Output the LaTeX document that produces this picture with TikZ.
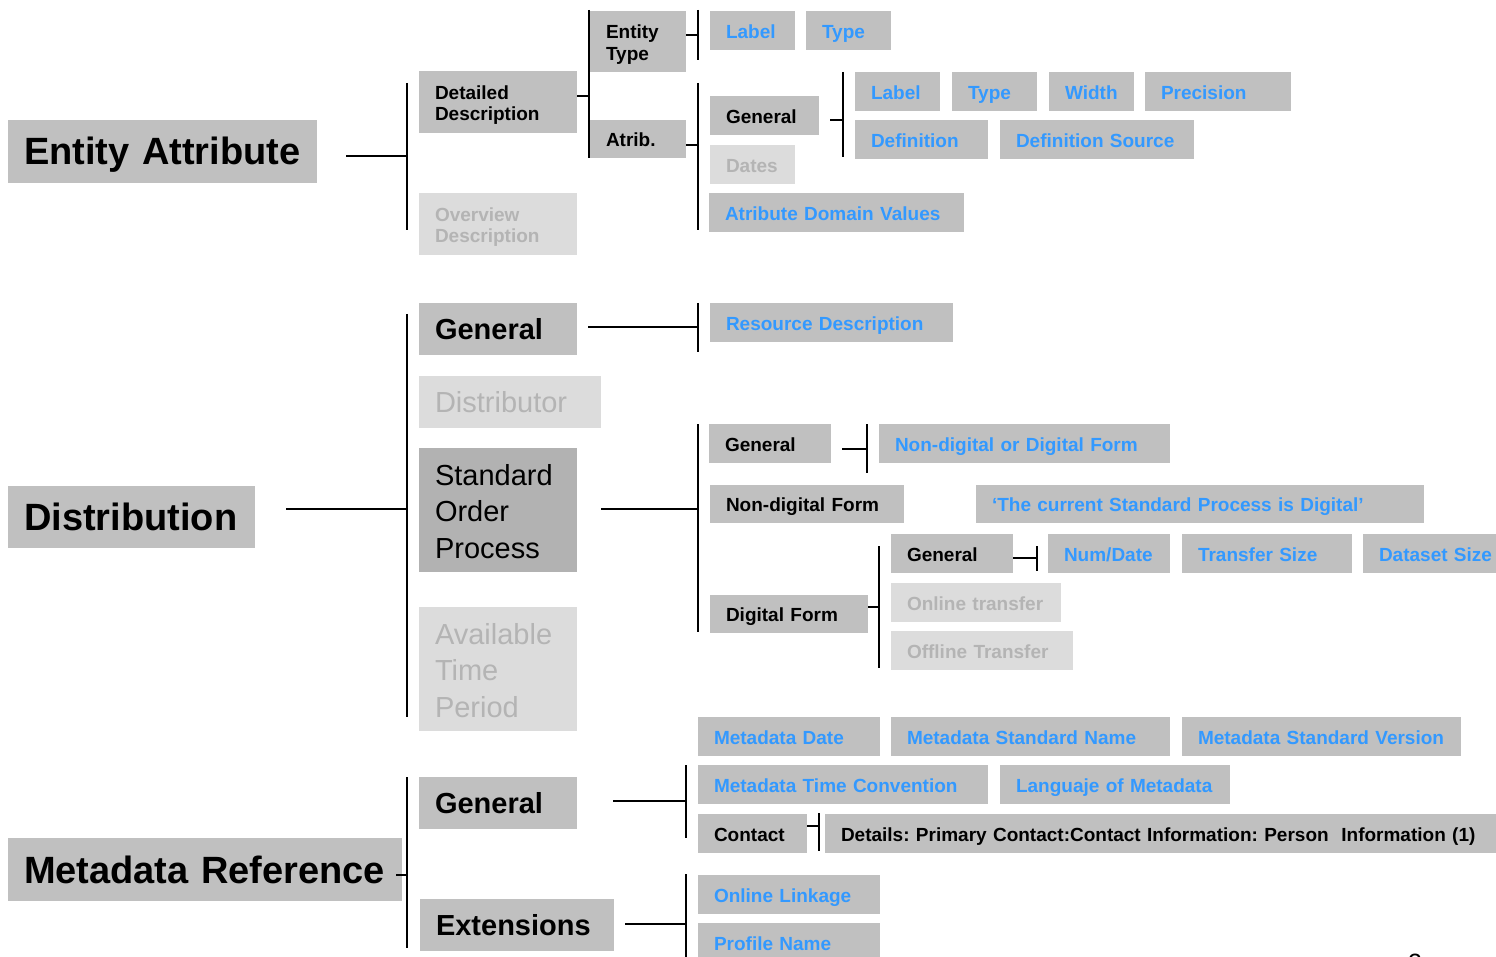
\documentclass[tikz,border=0pt]{standalone}
\usepackage{fontspec}
\setmainfont{Liberation Sans}
\frenchspacing

\definecolor{boxgray}{HTML}{C0C0C0}
\definecolor{boxlight}{HTML}{DCDCDC}
\definecolor{boxdark}{HTML}{B2B2B2}
\definecolor{txtlight}{HTML}{B4B4B4}
\definecolor{txtblue}{HTML}{3399FF}

% box: name, style, x, y (top left), width, height, text
\newcommand\nbox[7]{%
  \pgfmathsetmacro\nboxw{#5-32}%
  \node[cell,#2,minimum height=#6pt,text width=\nboxw pt] (#1) at (#3,#4) {#7};}
% vertical trunk: name, x, y top, y bottom
\newcommand\trunk[4]{%
  \coordinate (#1a) at (#2,#3);
  \coordinate (#1b) at (#2,#4);
  \draw[link] (#1a) -- (#1b);}
% branch from a box to a trunk: box, trunk, xshift, yshift
\newcommand\branch[4]{%
  \coordinate (#1s) at ([xshift=#3pt,yshift=#4pt]#1.east);
  \draw[link] (#1s) -- (#1s -| #2a);}

\begin{document}
\begin{tikzpicture}[x=1pt,y=-1pt,
  cell/.style={anchor=north west,inner xsep=16pt,inner ysep=0pt,outer sep=0pt,
    align=left,fill=boxgray,text=black},
  pale/.style={fill=boxlight,text=txtlight},
  deep/.style={fill=boxdark},
  blue/.style={text=txtblue},
  fbig/.style={font=\fontsize{38}{44}\selectfont\bfseries,text height=27pt,text depth=0pt},
  fmid/.style={font=\fontsize{29}{34}\selectfont\bfseries,text height=21pt,text depth=0pt},
  fsm/.style={font=\fontsize{19}{21.5}\selectfont\bfseries,text height=15.5pt,text depth=0pt},
  fsmm/.style={font=\fontsize{19}{21.5}\selectfont\bfseries,text height=14.3pt,text depth=19.8pt},
  freg/.style={font=\fontsize{29}{36.5}\selectfont,text height=21pt,text depth=0pt},
  fregm/.style={font=\fontsize{29}{36.5}\selectfont,text height=21pt,text depth=71pt},
  link/.style={line width=1.6pt,black}]

\useasboundingbox (0,0) rectangle (1496,957);
\fill[white] (0,0) rectangle (1496,957);

% ---------------- Entity Attribute ----------------
\nbox{ea}{fbig}{8}{120}{309}{63}{\mbox{Entity Attribute}}
\nbox{dd}{fsmm}{419}{71}{158}{62}{Detailed\\Description}
\nbox{od}{fsmm,pale}{419}{193}{158}{62}{Overview\\Description}
\nbox{et}{fsmm}{590}{11}{96}{61}{Entity\\Type}
\nbox{at}{fsm}{590}{120}{96}{38}{\mbox{Atrib.}}
\nbox{la}{fsm,blue}{710}{11}{85}{39}{\mbox{Label}}
\nbox{ty}{fsm,blue}{806}{11}{85}{39}{\mbox{Type}}
\nbox{ag}{fsm}{710}{96}{109}{39}{\mbox{General}}
\nbox{dt}{fsm,pale}{710}{145}{85}{39}{\mbox{Dates}}
\nbox{adv}{fsm,blue}{709}{193}{255}{39}{\mbox{Atribute Domain Values}}
\nbox{lb}{fsm,blue}{855}{72}{85}{39}{\mbox{Label}}
\nbox{tb}{fsm,blue}{952}{72}{85}{39}{\mbox{Type}}
\nbox{wd}{fsm,blue}{1049}{72}{85}{39}{\mbox{Width}}
\nbox{pr}{fsm,blue}{1145}{72}{146}{39}{\mbox{Precision}}
\nbox{df}{fsm,blue}{855}{120}{133}{39}{\mbox{Definition}}
\nbox{ds}{fsm,blue}{1000}{120}{194}{39}{\mbox{Definition Source}}

\trunk{A}{407}{83}{230}
\trunk{B}{589}{10}{158}
\trunk{C}{698}{10}{60}
\trunk{D}{698}{83}{230}
\trunk{E}{843}{72}{157}
\branch{ea}{A}{29}{-4.5}
\branch{dd}{B}{0}{6}
\branch{et}{C}{0}{6.5}
\branch{at}{D}{0}{-6}
\branch{ag}{E}{11}{-4.5}

% ---------------- Distribution ----------------
\nbox{di}{fbig}{8}{486}{247}{62}{\mbox{Distribution}}
\nbox{gb}{fmid}{419}{303}{158}{52}{\mbox{General}}
\nbox{dis}{freg,pale}{419}{376}{182}{52}{\mbox{Distributor}}
\nbox{sop}{fregm,deep}{419}{448}{158}{124}{Standard\\Order\\Process}
\nbox{atp}{fregm,pale}{419}{607}{158}{124}{Available\\Time\\Period}
\nbox{rd}{fsm,blue}{710}{303}{243}{39}{\mbox{Resource Description}}
\nbox{gc}{fsm}{709}{424}{122}{39}{\mbox{General}}
\nbox{nd}{fsm,blue}{879}{424}{291}{39}{\mbox{Non-digital or Digital Form}}
\nbox{ndf}{fsm}{710}{485}{194}{38}{\mbox{Non-digital Form}}
\nbox{cur}{fsm,blue}{976}{485}{448}{38}{\mbox{‘The current Standard Process is Digital’}}
\nbox{dfm}{fsm}{710}{595}{158}{38}{\mbox{Digital Form}}
\nbox{gd}{fsm}{891}{534}{122}{39}{\mbox{General}}
\nbox{nm}{fsm,blue}{1048}{534}{122}{39}{\mbox{Num/Date}}
\nbox{ts}{fsm,blue}{1182}{534}{170}{39}{\mbox{Transfer Size}}
\nbox{dss}{fsm,blue}{1363}{534}{160}{39}{\mbox{Dataset Size}}
\nbox{ot}{fsm,pale}{891}{583}{170}{39}{\mbox{Online transfer}}
\nbox{oft}{fsm,pale}{891}{631}{182}{39}{\mbox{Offline Transfer}}

\trunk{F}{407}{314}{717}
\trunk{G}{698}{303}{352}
\trunk{H}{698}{424}{632}
\trunk{I}{867}{424}{473}
\trunk{J}{879}{546}{668}
\trunk{K}{1037}{546}{571}
\branch{di}{F}{31}{8}
\branch{gb}{G}{11}{2}
\branch{sop}{H}{24}{1}
\branch{gc}{I}{11}{-5.5}
\branch{dfm}{J}{0}{7}
\branch{gd}{K}{0}{-4.5}

% ---------------- Metadata Reference ----------------
\nbox{mr}{fbig}{8}{838}{394}{63}{\mbox{Metadata Reference}}
\nbox{ge}{fmid}{419}{777}{158}{52}{\mbox{General}}
\nbox{ext}{fmid}{420}{899}{194}{52}{\mbox{Extensions}}
\nbox{md}{fsm,blue}{698}{717}{182}{39}{\mbox{Metadata Date}}
\nbox{msn}{fsm,blue}{891}{717}{279}{39}{\mbox{Metadata Standard Name}}
\nbox{msv}{fsm,blue}{1182}{717}{279}{39}{\mbox{Metadata Standard Version}}
\nbox{mtc}{fsm,blue}{698}{765}{290}{39}{\mbox{Metadata Time Convention}}
\nbox{lm}{fsm,blue}{1000}{765}{230}{39}{\mbox{Languaje of Metadata}}
\nbox{ct}{fsm}{698}{814}{109}{39}{\mbox{Contact}}
\nbox{det}{fsm}{825}{814}{690}{39}{\mbox{Details: Primary Contact:Contact Information: Person\ \ Information (1)}}
\nbox{ol}{fsm,blue}{698}{875}{182}{39}{\mbox{Online Linkage}}
\nbox{pn}{fsm,blue}{698}{923}{182}{39}{\mbox{Profile Name}}

\trunk{L}{407}{777}{948}
\trunk{M}{686}{765}{838}
\trunk{N}{819}{813}{851}
\trunk{O}{686}{874}{960}
\branch{mr}{L}{-6}{-5.5}
\branch{ge}{M}{36}{2}
\branch{ct}{N}{0}{7.5}
\branch{ext}{O}{11}{1}

% page number at the lower edge
\node[font=\fontsize{25}{30}\selectfont,anchor=base west,inner sep=0pt] (pg) at (1408,971) {2};
\end{tikzpicture}
\end{document}
